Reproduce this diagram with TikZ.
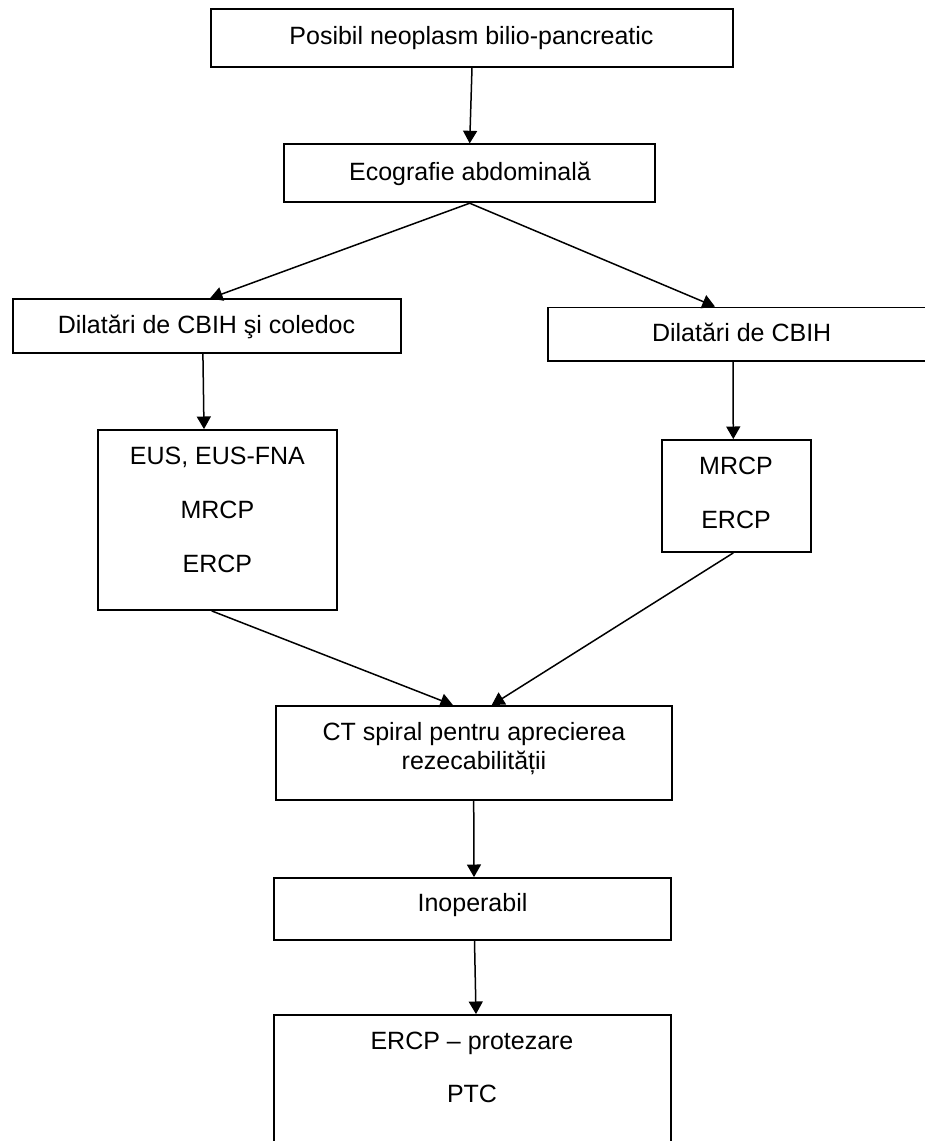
\documentclass[tikz,border=0pt]{standalone}
\usepackage{fontspec}
\setmainfont{Liberation Sans}
\usetikzlibrary{arrows.meta,calc}
\begin{document}
\begin{tikzpicture}[x=0.5pt,y=-0.5pt,
  box/.style={draw, line width=0.9pt, inner sep=0pt},
  txt/.style={inner sep=0pt, text height=9pt, text depth=0pt, font=\fontsize{12.5}{15}\selectfont},
  conn/.style={draw, line width=0.75pt, -{Triangle[length=6.3pt,width=7pt]}}]
\fill[white] (0,0) rectangle (925,1141);
\useasboundingbox (0,0) rectangle (925,1141);
\clip (0,0) rectangle (925,1141);
% boxes
\node[box, minimum width=261pt,   minimum height=28.7pt] (b1)   at (472,38) {};
\node[box, minimum width=185.35pt,minimum height=29pt]   (b2)   at (469.7,173.3) {};
\node[box, minimum width=194.15pt,minimum height=26.7pt] (b3)   at (206.9,326) {};
\node[box, minimum width=193.5pt, minimum height=26.75pt](b4)   at (741.5,334.25) {};
\node[box, minimum width=119.2pt, minimum height=90pt]   (eus)  at (217.5,520) {};
\node[box, minimum width=74.65pt, minimum height=56pt]   (mrcp) at (736.3,496) {};
\node[box, minimum width=198pt,   minimum height=47pt]   (ct)   at (473.7,753) {};
\node[box, minimum width=198.5pt, minimum height=31pt]   (inop) at (472.5,909) {};
\node[box, minimum width=198.5pt, minimum height=75pt]   (fin)  at (472.5,1090) {};
% texts
\node[txt] (t1)  at (471.5,35)    {Posibil neoplasm bilio-pancreatic};
\node[txt] (t2)  at (470,171.7)   {Ecografie abdominală};
\node[txt] (t3)  at (206.5,324.5) {Dilatări de CBIH şi coledoc};
\node[txt] (t4)  at (741.7,332)   {Dilatări de CBIH};
\node[txt] (t5a) at (217.4,455.7) {EUS, EUS-FNA};
\node[txt] (t5b) at (217.4,509.5) {MRCP};
\node[txt] (t5c) at (217.4,563.5) {ERCP};
\node[txt] (t6a) at (736,465.3)   {MRCP};
\node[txt] (t6b) at (736,519.5)   {ERCP};
\node[txt] (t7a) at (474,731.7)   {CT spiral pentru aprecierea};
\node[txt] (t7b) at (474,760.5)   {rezecabilității};
\node[txt] (t8)  at (472.5,902)   {Inoperabil};
\node[txt] (t9a) at (472,1040.5)  {ERCP – protezare};
\node[txt] (t9b) at (472,1093)    {PTC};
% connectors
\draw[conn] (b1.south) -- (b2.north);
\draw[conn] (b2.south) -- ([xshift=1.5pt]b3.north);
\draw[conn] (b2.south) -- ([xshift=-13.25pt]b4.north);
\draw[conn] ([xshift=-2pt]b3.south) -- ([xshift=-6.75pt]eus.north);
\draw[conn] ([xshift=-4.25pt]b4.south) -- ([xshift=-1.5pt]mrcp.north);
\draw[conn] ([xshift=-2.9pt]eus.south) -- ([xshift=-10.35pt]ct.north);
\draw[conn] ([xshift=-1.5pt]mrcp.south) -- ([xshift=9pt]ct.north);
\draw[conn] (ct.south) -- ([xshift=0.75pt]inop.north);
\draw[conn] ([xshift=1pt]inop.south) -- ([xshift=1.75pt]fin.north);
\end{tikzpicture}
\end{document}
